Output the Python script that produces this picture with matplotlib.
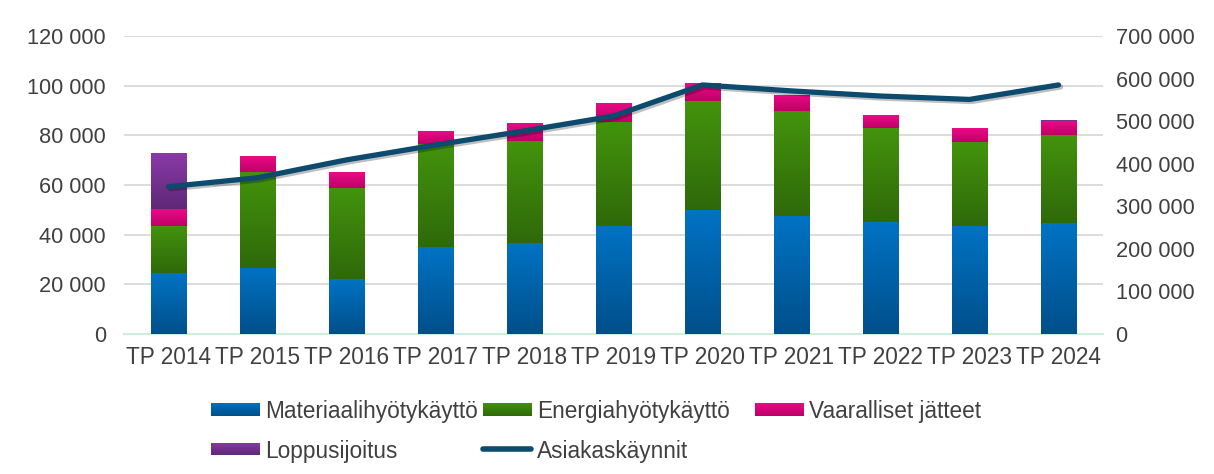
import numpy as np
import matplotlib
matplotlib.use('Agg')
import matplotlib.pyplot as plt
from matplotlib.colors import LinearSegmentedColormap
from matplotlib.lines import Line2D
import matplotlib.patheffects as pe

plt.rcParams['font.family'] = ['Liberation Sans', 'DejaVu Sans']

vuodet = ['TP 2014', 'TP 2015', 'TP 2016', 'TP 2017', 'TP 2018', 'TP 2019',
          'TP 2020', 'TP 2021', 'TP 2022', 'TP 2023', 'TP 2024']
materiaali = [24400, 26700, 22100, 35000, 36600, 43500, 49900, 47600, 45200, 43600, 44500]
energia = [19100, 38400, 36800, 41500, 41100, 41800, 43900, 42100, 37800, 33800, 35600]
vaaralliset = [6800, 6700, 6200, 5200, 7300, 7700, 7100, 6500, 5100, 5600, 5700]
loppusijoitus = [22400, 0, 0, 0, 0, 0, 0, 0, 0, 0, 300]
asiakaskaynnit = [346000, 367000, 409000, 444000, 477000, 512000, 585000, 571000, 559000, 551000, 585000]

# (yläväri, alaväri) gradientille
varit = {
    'Materiaalihyötykäyttö': ('#0073c4', '#004f8a'),
    'Energiahyötykäyttö': ('#43940d', '#2f690a'),
    'Vaaralliset jätteet': ('#ec0a86', '#bf0068'),
    'Loppusijoitus': ('#8a3aa6', '#5e2878'),
}
viiva_vari = '#0c4a6e'
teksti = '#404040'
W, H = 1214, 474

fig = plt.figure(figsize=(W / 100, H / 100), dpi=100)
ax = fig.add_axes([124/W, 1 - 334/H, (1103-124)/W, (334-36)/H])
ax2 = ax.twinx()

x = np.arange(len(vuodet))
w = 0.4
grad = np.linspace(0, 1, 256).reshape(-1, 1)
kartat = {n: LinearSegmentedColormap.from_list(n, [c[1], c[0]]) for n, c in varit.items()}

pohja = np.zeros(len(vuodet))
for nimi, arvot in [('Materiaalihyötykäyttö', materiaali), ('Energiahyötykäyttö', energia),
                    ('Vaaralliset jätteet', vaaralliset), ('Loppusijoitus', loppusijoitus)]:
    palkit = ax.bar(x, arvot, w, bottom=pohja, color=varit[nimi][0], linewidth=0, zorder=2)
    for b in palkit:
        if b.get_height() <= 0:
            continue
        x0, y0 = b.get_x(), b.get_y()
        im = ax.imshow(grad, cmap=kartat[nimi], origin='lower', aspect='auto',
                       extent=[x0, x0 + b.get_width(), y0, y0 + b.get_height()], zorder=3)
        im.set_clip_path(b)
    pohja = pohja + np.array(arvot)

ax.set_xlim(-0.5, len(vuodet) - 0.5)
ax.set_ylim(0, 120000)
ax.set_yticks(np.arange(0, 120001, 20000))
ax.set_yticklabels([f'{v:,}'.replace(',', ' ') for v in range(0, 120001, 20000)])
ax.set_xticks(x)
ax.set_xticklabels(vuodet)
ax.grid(axis='y', color='#d9d9d9', linewidth=1.3, zorder=0)
ax.set_axisbelow(True)

ax2.plot(x, asiakaskaynnit, color=viiva_vari, linewidth=3.8, solid_capstyle='round',
         solid_joinstyle='round', zorder=5,
         path_effects=[pe.SimpleLineShadow(offset=(1.5, -1.5), alpha=0.25), pe.Normal()])
ax2.set_ylim(0, 700000)
ax2.set_yticks(np.arange(0, 700001, 100000))
ax2.set_yticklabels([f'{v:,}'.replace(',', ' ') for v in range(0, 700001, 100000)])

for a in (ax, ax2):
    for s in a.spines.values():
        s.set_visible(False)
    a.tick_params(length=0, labelsize=15.7, labelcolor=teksti)
ax.spines['bottom'].set_visible(True)
ax.spines['bottom'].set_color('#cdeedd')
ax.spines['bottom'].set_linewidth(1.5)
ax.tick_params(axis='y', pad=13)
ax.tick_params(axis='x', pad=9, labelsize=16.3)
ax2.tick_params(axis='y', pad=9)

# selite käsin, Excelin tapaan tasavälisiin sarakkeisiin
selite = [('Materiaalihyötykäyttö', 211, 409), ('Energiahyötykäyttö', 483, 409),
          ('Vaaralliset jätteet', 755, 409), ('Loppusijoitus', 211, 449)]
for nimi, px, py in selite:
    lax = fig.add_axes([px/W, 1 - (py + 6.5)/H, 49/W, 13/H])
    lax.imshow(grad, cmap=kartat[nimi], origin='lower', aspect='auto')
    lax.axis('off')
    fig.text((px + 54)/W, 1 - py/H, nimi, fontsize=16.3, color=teksti, va='center_baseline')
fig.add_artist(Line2D([483/W, 531/W], [1 - 449/H, 1 - 449/H], color=viiva_vari,
                      linewidth=4, solid_capstyle='round'))
fig.text(537/W, 1 - 449/H, 'Asiakaskäynnit', fontsize=16.3, color=teksti, va='center_baseline')

fig.savefig('out.png', dpi=100)
